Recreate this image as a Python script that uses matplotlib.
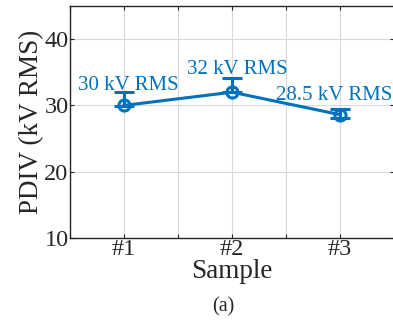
import matplotlib.pyplot as plt
import numpy as np

# -----------------------data-----------------------
samples = ['#1', '#2', '#3']
x_pos = np.array([1, 2, 3])
pdiv = np.array([30.0, 32.0, 28.6])
err_low = np.array([0.1, 0.0, 0.5])
err_high = np.array([2.0, 2.1, 0.9])
labels = ['30 kV RMS', '32 kV RMS', '28.5 kV RMS']

# -----------------------fig configuration-----------------------
plt.rcParams['font.family'] = 'Liberation Serif'
blue = '#0072BD'
gray_grid = '#D9D9D9'
dark = '#262626'

fig = plt.figure(figsize=(3.93, 3.21), dpi=100)
ax = fig.add_axes([0.178, 0.259, 0.825, 0.722])

ax.errorbar(x_pos, pdiv, yerr=[err_low, err_high], color=blue, linewidth=2.2,
            marker='o', markersize=8, markerfacecolor='none', markeredgewidth=2.2,
            capsize=7, capthick=2.2, elinewidth=2.2, zorder=3)

# value labels
offsets = [(3, 14), (4, 16), (-4, 14)]
for xi, yi, lab, off in zip(x_pos, pdiv, labels, offsets):
    ax.annotate(lab, (xi, yi), xytext=off, textcoords='offset points',
                ha='center', va='center', color=blue, fontsize=15)

ax.set_xlim(0.5, 3.5)
ax.set_ylim(10, 45)
ax.set_xticks([0.5, 1, 1.5, 2, 2.5, 3, 3.5])
ax.set_xticklabels(['', '#1', '', '#2', '', '#3', ''], fontsize=17.5)
ax.set_yticks([10, 20, 30, 40])
ax.set_yticklabels(['10', '20', '30', '40'], fontsize=17.5)
ax.tick_params(direction='in', length=3, color=dark, labelcolor=dark, pad=1,
               top=True, right=True)
ax.grid(True, color=gray_grid, linewidth=0.8)
for s in ax.spines.values():
    s.set_color(dark)
    s.set_linewidth(1.0)

ax.set_xlabel('Sample', fontsize=19.5, color=dark, labelpad=-1)
ax.set_ylabel('PDIV (kV RMS)', fontsize=19.5, color=dark, labelpad=0)
fig.text(0.567, 0.045, '(a)', ha='center', va='center', fontsize=14.5, color=dark)

plt.savefig('out.png', dpi=100)
